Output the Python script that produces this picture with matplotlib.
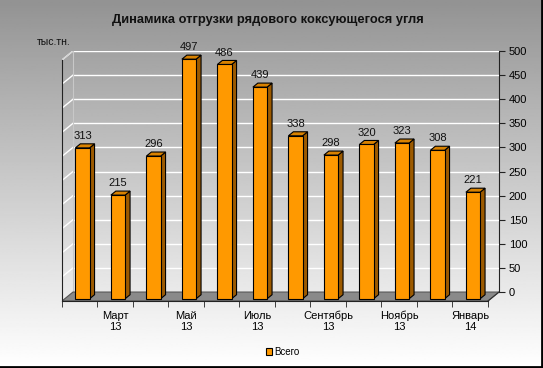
import numpy as np
import matplotlib.pyplot as plt
from matplotlib.patches import Polygon

plt.rcParams['font.family'] = ['Liberation Sans', 'DejaVu Sans']

# data
months = ['Февраль\n13', 'Март\n13', 'Апрель\n13', 'Май\n13', 'Июнь\n13', 'Июль\n13',
          'Август\n13', 'Сентябрь\n13', 'Октябрь\n13', 'Ноябрь\n13', 'Декабрь\n13', 'Январь\n14']
values = [313, 215, 296, 497, 486, 439, 338, 298, 320, 323, 308, 221]
yticks = list(range(0, 501, 50))

n = len(values)
x = np.arange(n)

# fake 3d depth (data units)
dx, dy = 0.31, 18.6
f, bd = 0.25, 0.45   # bar front position / bar depth (fraction of depth)
bw = 0.4

W, H = 543, 368
fig = plt.figure(figsize=(W / 100, H / 100), dpi=100)

# background gradient
bg = fig.add_axes([0, 0, 1, 1], zorder=-10)
grad = np.linspace(0.5, 1.0, 256).reshape(-1, 1) ** 0.8
bg.imshow(grad, cmap='gray', vmin=0, vmax=1, aspect='auto', extent=[0, 1, 0, 1])
bg.set_axis_off()

ax = fig.add_axes([62 / W, (H - 301) / H, (499 - 62) / W, (301 - 51) / H])
ax.patch.set_visible(False)
ax.set_xlim(-0.5, n - 0.5 + dx)
ax.set_ylim(0, 500 + dy)

x0, x1 = -0.5, n - 0.5

# floor
ax.add_patch(Polygon([(x0, 0), (x1, 0), (x1 + dx, dy), (x0 + dx, dy)],
                     closed=True, facecolor='#8a8a8a', edgecolor='#555555', lw=0.8, zorder=1))

# gridlines on back wall and left wall
for v in yticks:
    ax.plot([x0 + dx, x1 + dx], [v + dy, v + dy], color='white', lw=1.0, zorder=0.5)
    if v > 0:
        ax.plot([x0, x0 + dx], [v, v + dy], color='white', lw=1.0, zorder=0.5)
ax.plot([x0 + dx, x0 + dx], [dy, 500 + dy], color='#c8c8c8', lw=0.8, zorder=0.5)
ax.plot([x0, x0 + dx], [500, 500 + dy], color='#d0d0d0', lw=0.8, zorder=0.5)
ax.plot([x1, x1 + dx], [0, dy], color='#333333', lw=0.8, zorder=1.2)

# bars: front faces via bar(), side and top from the bar geometry
bars = ax.bar(x + f * dx, values, width=bw, bottom=f * dy, color='#ff9900',
              edgecolor='black', lw=0.8, zorder=3, label='Всего')
for b, v in zip(bars, values):
    bx0 = b.get_x()
    bx1 = bx0 + b.get_width()
    yb = b.get_y()
    yt = yb + v
    side = [(bx1, yb), (bx1 + bd * dx, yb + bd * dy), (bx1 + bd * dx, yt + bd * dy), (bx1, yt)]
    top = [(bx0, yt), (bx1, yt), (bx1 + bd * dx, yt + bd * dy), (bx0 + bd * dx, yt + bd * dy)]
    ax.add_patch(Polygon(side, closed=True, facecolor='#9c5a00', edgecolor='black', lw=0.8, zorder=2.9))
    ax.add_patch(Polygon(top, closed=True, facecolor='#d98200', edgecolor='black', lw=0.8, zorder=2.9))
    ax.annotate(str(v), (bx0 + bw / 2, yt + bd * dy), xytext=(0, 2), textcoords='offset points',
                ha='center', va='bottom', fontsize=8, color='#111111', zorder=5)

# axes lines
for s in ['top', 'right']:
    ax.spines[s].set_visible(False)
ax.spines['left'].set_bounds(0, 500)
ax.spines['bottom'].set_bounds(x0, x1)
ax.spines['left'].set_color('#222222')
ax.spines['bottom'].set_color('#222222')
ax.set_yticks([])
ax.set_xticks(np.arange(x0, x1 + 0.01, 1.0), minor=True)
ax.set_xticks(x[1::2] + 0.0)
ax.set_xticklabels(months[1::2], fontsize=8, linespacing=1.15)
ax.tick_params(axis='x', which='major', length=0, pad=7)
ax.tick_params(axis='x', which='minor', length=4, direction='out', color='#222222')

sec = ax.secondary_yaxis('right', functions=(lambda y: y - dy, lambda v: v + dy))
sec.set_yticks(yticks)
sec.tick_params(labelsize=8, length=4, color='#222222', pad=3)
sec.spines['right'].set_bounds(0, 500)
sec.spines['right'].set_color('#222222')

fig.text(268 / W, 1 - 20 / H, 'Динамика отгрузки рядового коксующегося угля',
         ha='center', va='center', fontsize=9.3, fontweight='bold', color='#111111')
fig.text(37 / W, 1 - 42 / H, 'тыс.тн.', ha='left', va='center', fontsize=7.5, color='#111111')

leg = fig.legend(loc='center', bbox_to_anchor=(283 / W, 1 - 352 / H), frameon=False,
                 fontsize=7, handlelength=0.6, handleheight=0.6, handletextpad=0.2)

# shadow border right/bottom
fig.add_artist(plt.Line2D([0, 1], [0.002, 0.002], color='black', lw=2, transform=fig.transFigure))
fig.add_artist(plt.Line2D([0.998, 0.998], [0, 1], color='black', lw=2, transform=fig.transFigure))

fig.savefig('out.png', dpi=100)
